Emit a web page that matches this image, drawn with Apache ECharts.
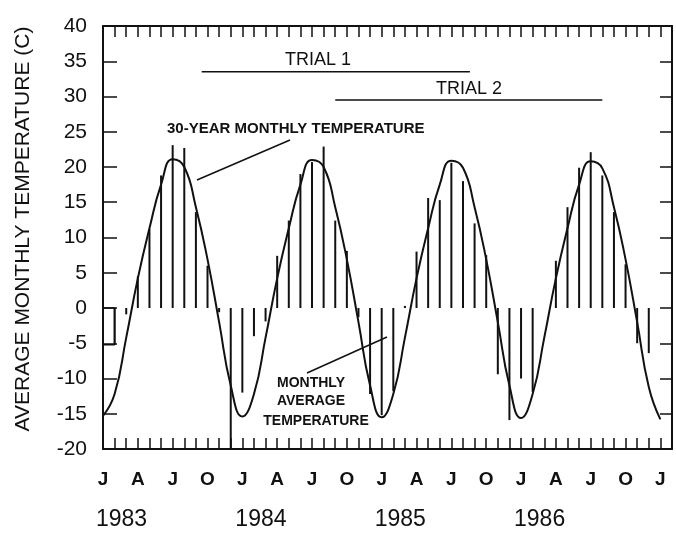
<!DOCTYPE html>
<html>
<head>
<meta charset="utf-8">
<script src="https://cdn.jsdelivr.net/npm/echarts@6/dist/echarts.min.js"></script>
<style>
  html, body { margin: 0; padding: 0; background: #fff; }
  #chart { width: 676px; height: 533px; }
</style>
</head>
<body>
<div id="chart"></div>
<script>
// month letters under the axis, one every 3 months (Jan 1983 .. Jan 1987)
const tickLabels = ['J', 'A', 'J', 'O', 'J', 'A', 'J', 'O', 'J', 'A', 'J', 'O', 'J', 'A', 'J', 'O', 'J']
const years = ['1983', '1984', '1985', '1986']

// monthly average temperature (C), Jan 1983 .. Dec 1986
const avgTemp = [
  -8.8, -5.2, -0.9, 4.5, 11.2, 18.8, 23.1, 22.7, 13.6, 6.0, -0.6, -20.5,   // 1983
  -12.0, -4.0, -1.9, 7.4, 12.4, 19.0, 20.7, 22.9, 12.4, 8.1, -1.3, -12.2,  // 1984
  -15.2, -11.8, 0.3, 8.0, 15.6, 15.3, 20.6, 18.0, 12.0, 7.5, -9.4, -15.9,  // 1985
  -10.0, -11.9, 0.0, 6.7, 14.3, 19.9, 22.1, 18.8, 13.6, 6.2, -5.0, -6.4    // 1986
]

// 30-year monthly temperature (C), Jan 1983 .. Jan 1987
const normalTemp = [
  -15.3, -12.2, -4.2, 4.2, 11.3, 17.5, 21.1, 20.0, 14.3, 6.9, -2.0, -11.0,
  -15.4, -12.2, -4.2, 4.2, 11.3, 17.5, 21.0, 20.0, 14.3, 6.9, -2.0, -11.0,
  -15.5, -12.2, -4.2, 4.2, 11.3, 17.5, 20.9, 19.9, 14.3, 6.9, -2.0, -11.0,
  -15.6, -12.2, -4.2, 4.2, 11.3, 17.5, 20.8, 19.8, 14.3, 6.9, -2.0, -11.2,
  -15.8
]

// trial periods, months counted from Jan 1983
const trial1 = [8.5, 31.6]
const trial2 = [20, 43]

const FONT = '"Liberation Sans", Arial, sans-serif'
const INK = '#111'

let mychart = echarts.init(document.getElementById('chart'))

// x axes: monthly ticks pointing into the box
const xBase = {
  type: 'value',
  min: 0,
  max: 49,
  interval: 1,
  axisLine: { show: true, onZero: false, lineStyle: { color: INK, width: 2 } },
  axisTick: { show: true, inside: true, length: 11, lineStyle: { color: INK, width: 1.5 } },
  splitLine: { show: false }
}
const yBase = {
  type: 'value',
  min: -20,
  max: 40,
  interval: 5,
  axisLine: { show: true, onZero: false, lineStyle: { color: INK, width: 2 } },
  axisTick: { show: true, inside: true, length: 14, lineStyle: { color: INK, width: 1.5 } },
  splitLine: { show: false }
}

mychart.setOption({
  animation: false,
  backgroundColor: '#fff',
  grid: { left: 103, right: 4, top: 26, bottom: 84 },
  xAxis: [
    Object.assign({}, xBase, {
      position: 'bottom',
      axisLabel: {
        margin: 21,
        color: INK,
        fontFamily: FONT,
        fontSize: 19,
        fontWeight: 'bold',
        formatter: function (v) {
          return v % 3 === 0 && v / 3 < tickLabels.length ? tickLabels[v / 3] : ''
        }
      }
    }),
    Object.assign({}, xBase, { position: 'top', axisLabel: { show: false } })
  ],
  yAxis: [
    Object.assign({}, yBase, {
      position: 'left',
      axisLabel: { margin: 16, color: INK, fontFamily: FONT, fontSize: 21 }
    }),
    Object.assign({}, yBase, {
      position: 'right',
      axisTick: { show: true, inside: true, length: 12, lineStyle: { color: INK, width: 1.5 } },
      axisLabel: { show: false }
    })
  ],
  series: [
    {
      // monthly average temperature as thin bars from 0
      type: 'bar',
      barWidth: 2,
      data: avgTemp.map((v, i) => [i, v]),
      itemStyle: { color: INK }
    },
    {
      // odd little box the plotter drew at the start
      type: 'line',
      data: [[0, 0], [1, 0], [1, avgTemp[1]], [0, avgTemp[1]]],
      symbol: 'none',
      lineStyle: { color: INK, width: 1.5 }
    },
    {
      type: 'line',
      smooth: 0.5,
      data: normalTemp.map((v, i) => [i, v]),
      symbol: 'none',
      lineStyle: { color: INK, width: 2 }
    },
    {
      type: 'line',
      data: [[trial1[0], 33.5], [trial1[1], 33.5]],
      symbol: 'none',
      lineStyle: { color: INK, width: 1.5 }
    },
    {
      type: 'line',
      data: [[trial2[0], 29.5], [trial2[1], 29.5]],
      symbol: 'none',
      lineStyle: { color: INK, width: 1.5 }
    }
  ]
})

// annotations and the year row
function txt(text, x, y, size, weight, align) {
  return {
    type: 'text',
    x: x,
    y: y,
    style: {
      text: text,
      font: (weight || 'normal') + ' ' + size + 'px ' + FONT,
      fill: INK,
      textAlign: align || 'center',
      textVerticalAlign: 'middle'
    }
  }
}
function seg(x1, y1, x2, y2) {
  return { type: 'line', shape: { x1: x1, y1: y1, x2: x2, y2: y2 }, style: { stroke: INK, lineWidth: 1.5 } }
}

let graphics = [
  Object.assign(txt('AVERAGE MONTHLY TEMPERATURE (C)', 0, 0, 21), { x: 23, y: 229, rotation: Math.PI / 2 }),
  txt('TRIAL 1', 318, 60, 18),
  txt('TRIAL 2', 469, 89, 18),
  txt('30-YEAR MONTHLY TEMPERATURE', 167, 129, 15, 'bold', 'left'),
  seg(290, 140, 197, 180),
  txt('MONTHLY', 311, 383, 14, 'bold'),
  txt('AVERAGE', 311, 401, 14, 'bold'),
  txt('TEMPERATURE', 316, 421, 14, 'bold'),
  seg(307, 373, 387, 337)
]
years.forEach(function (y, k) {
  let px = mychart.convertToPixel({ xAxisIndex: 0 }, 12 * k)
  graphics.push(txt(y, px - 7, 520, 23, 'normal', 'left'))
})
mychart.setOption({ graphic: graphics })
</script>
</body>
</html>
